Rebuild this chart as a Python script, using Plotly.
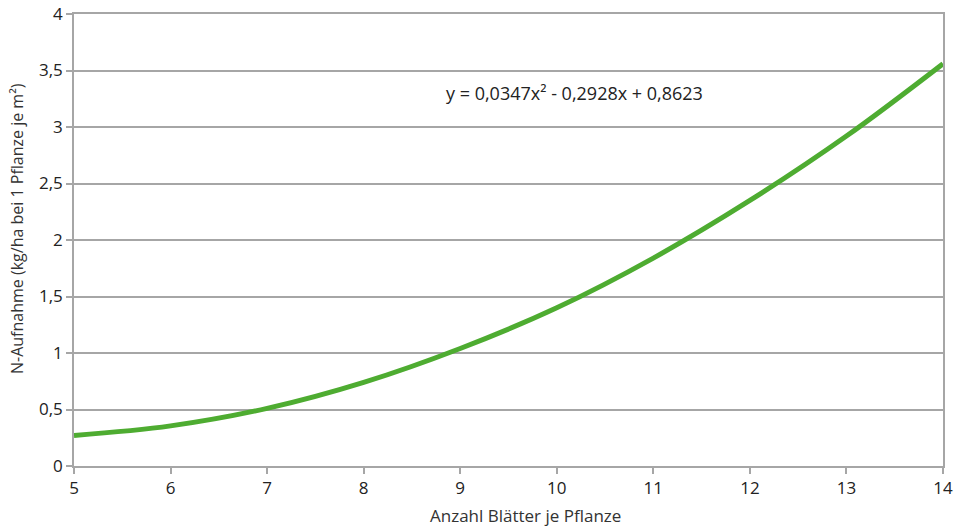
import plotly.graph_objects as go

# Values
blaetter = [5, 6, 7, 8, 9, 10, 11, 12, 13, 14]
n_aufnahme = [0.27, 0.355, 0.51, 0.74, 1.04, 1.40, 1.84, 2.35, 2.92, 3.56]

x_ticks = [5, 6, 7, 8, 9, 10, 11, 12, 13, 14]
y_ticks = [0, 0.5, 1, 1.5, 2, 2.5, 3, 3.5, 4]
y_tick_labels = ["0", "0,5", "1", "1,5", "2", "2,5", "3", "3,5", "4"]

x_title = "Anzahl Blätter je Pflanze"
y_title = "N-Aufnahme (kg/ha bei 1 Pflanze je m²)"
equation = "y = 0,0347x² - 0,2928x + 0,8623"

grid = "#a6a6a6"
font = "Open Sans, Roboto, sans-serif"

W, H = 966, 528
L, R, T, B = 74, 23, 14, 62
pw, ph = W - L - R, H - T - B


def px(xp):
    return (xp - L) / pw


def py(yp):
    return (H - B - yp) / ph


fig = go.Figure()
fig.add_trace(go.Scatter(
    x=blaetter, y=n_aufnahme, mode="lines",
    line=dict(color="#4eac31", width=5, shape="spline", smoothing=1.0),
    hoverinfo="skip", showlegend=False,
))

fig.add_annotation(
    x=px(574), y=py(93), xref="paper", yref="paper",
    xanchor="center", yanchor="middle",
    text=equation, showarrow=False,
    font=dict(family=font, size=18, color="#222222"),
)
fig.add_annotation(
    x=px(525), y=py(515), xref="paper", yref="paper",
    xanchor="center", yanchor="middle",
    text=x_title, showarrow=False,
    font=dict(family=font, size=17, color="#333333"),
)
fig.add_annotation(
    x=px(17), y=py(229), xref="paper", yref="paper",
    xanchor="center", yanchor="middle",
    text=y_title, showarrow=False, textangle=-90,
    font=dict(family=font, size=16, color="#333333"),
)

fig.update_layout(
    width=W, height=H,
    margin=dict(l=L, r=R, t=T, b=B),
    paper_bgcolor="white", plot_bgcolor="white",
    font=dict(family=font, color="#222222"),
    xaxis=dict(
        range=[5, 14], tickvals=x_ticks, ticktext=[str(v) for v in x_ticks],
        showgrid=False, zeroline=False, automargin=False,
        showline=True, linecolor=grid, linewidth=1.5, mirror=True,
        ticks="outside", ticklen=6, tickcolor=grid, tickwidth=1.5,
        tickfont=dict(size=17, family=font, color="#222222"),
    ),
    yaxis=dict(
        range=[0, 4], tickvals=y_ticks, ticktext=y_tick_labels,
        showgrid=True, gridcolor=grid, gridwidth=1.5, zeroline=False, automargin=False,
        showline=True, linecolor=grid, linewidth=1.5, mirror=True,
        ticks="outside", ticklen=6, tickcolor=grid, tickwidth=1.5,
        tickfont=dict(size=17, family=font, color="#222222"),
    ),
)

fig.write_html("out.html", config={"displayModeBar": False},
               post_script="document.body.style.margin='0';")
